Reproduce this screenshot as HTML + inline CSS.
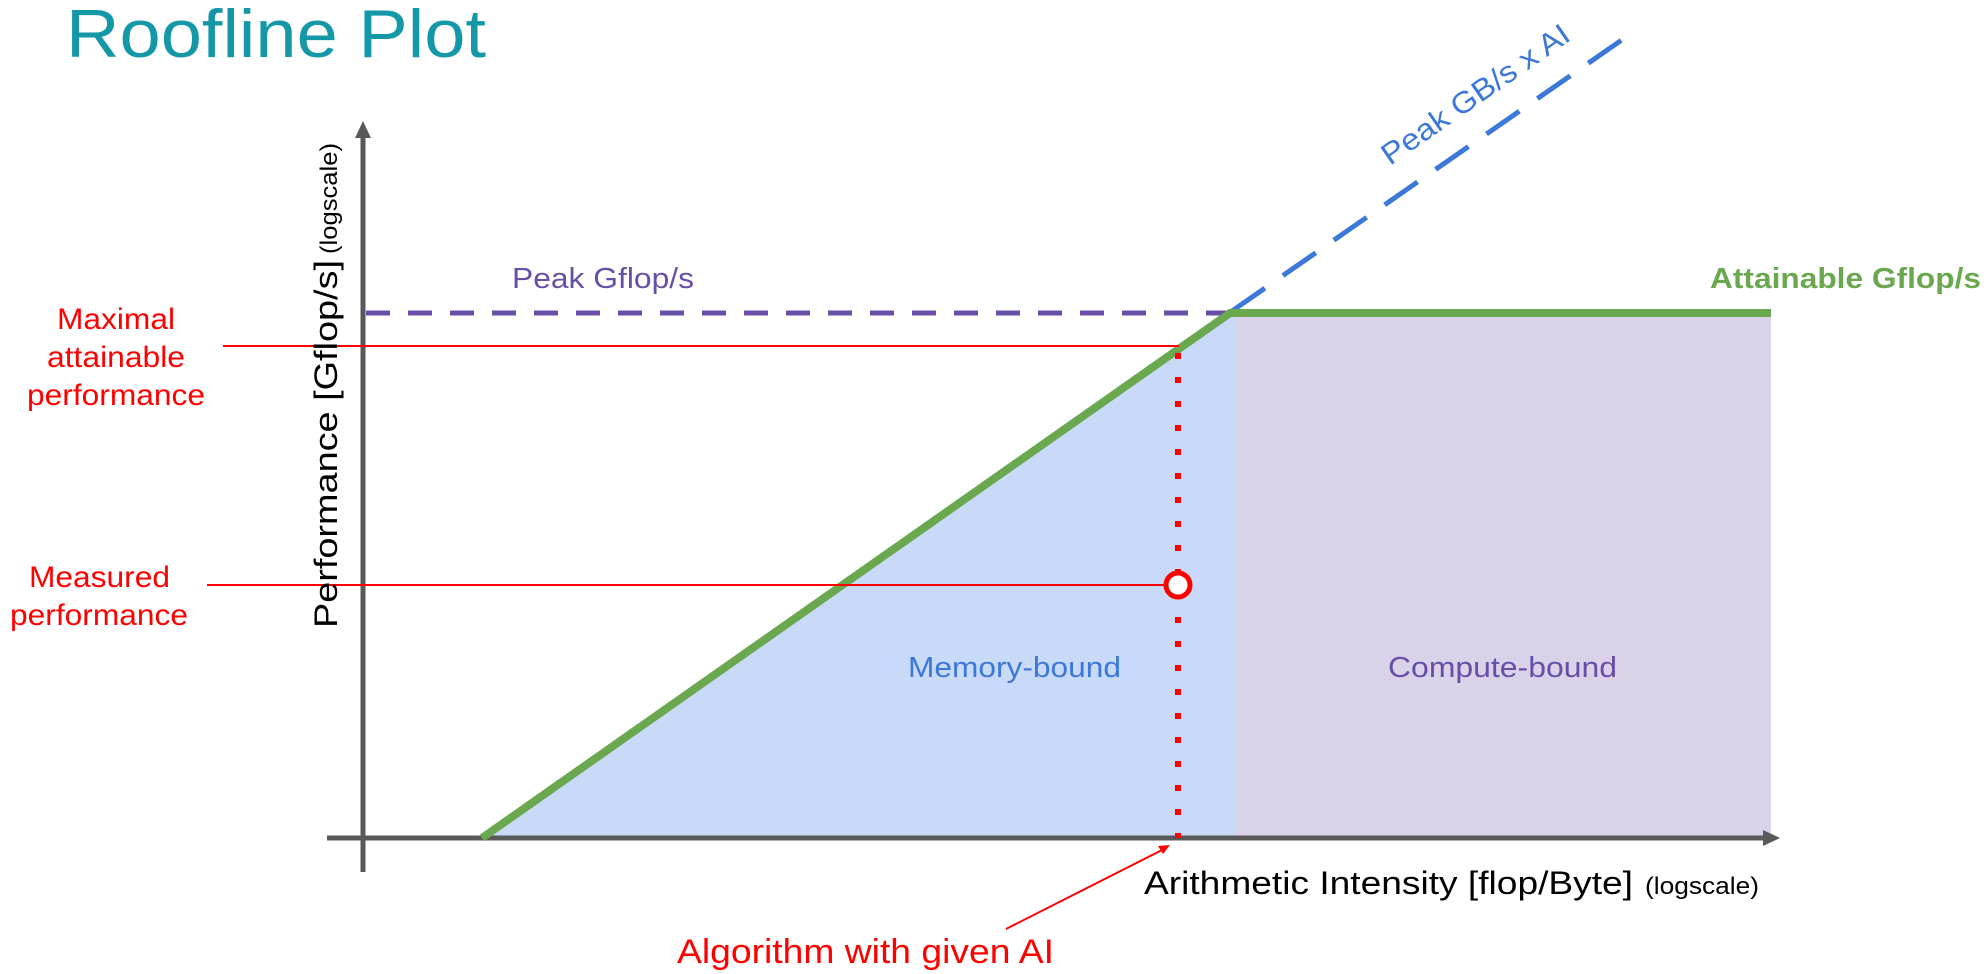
<!DOCTYPE html>
<html><head><meta charset="utf-8"><style>
html,body{margin:0;padding:0;background:#fff;}
svg{display:block;font-family:"Liberation Sans",sans-serif;}
</style></head><body>
<svg width="1988" height="974" viewBox="0 0 1988 974" xmlns="http://www.w3.org/2000/svg">
<text x="66" y="57" font-size="68" fill="#1497a6" textLength="420" lengthAdjust="spacingAndGlyphs">Roofline Plot</text>
<!-- fills -->
<polygon points="482,838 1230,313 1235,313 1235,838" fill="#c9daf8"/>
<rect x="1235" y="313" width="536" height="525" fill="#d9d2e9"/>
<!-- axes -->
<line x1="363" y1="135" x2="363" y2="872" stroke="#595959" stroke-width="5"/>
<polygon points="363,121 355,138 371,138" fill="#595959"/>
<line x1="327" y1="838" x2="1765" y2="838" stroke="#595959" stroke-width="5"/>
<polygon points="1780,838 1763,830 1763,846" fill="#595959"/>
<!-- peak line -->
<line x1="366" y1="313" x2="1228" y2="313" stroke="#6a4fa8" stroke-width="5" stroke-dasharray="24,18"/>
<!-- blue dashed -->
<line x1="1232" y1="311" x2="1626" y2="37" stroke="#3c78d8" stroke-width="5" stroke-dasharray="40,22"/>
<!-- green roof -->
<polyline points="482,838 1230,313 1771,313" fill="none" stroke="#6aa84f" stroke-width="8"/>
<!-- red lines -->
<line x1="223" y1="346" x2="1179" y2="346" stroke="#ff0000" stroke-width="2"/>
<line x1="207" y1="585" x2="1167" y2="585" stroke="#ff0000" stroke-width="2"/>
<line x1="1178" y1="353" x2="1178" y2="838" stroke="#ff0000" stroke-width="6" stroke-dasharray="6,18"/>
<circle cx="1178" cy="585" r="12" fill="#fff" stroke="#ff0000" stroke-width="5"/>
<line x1="1006" y1="929" x2="1164" y2="849" stroke="#ff0000" stroke-width="2"/>
<polygon points="1170,845 1158,846 1163,854" fill="#ff0000"/>
<!-- labels -->
<text x="512" y="288" font-size="29" fill="#674ea7" textLength="182" lengthAdjust="spacingAndGlyphs">Peak Gflop/s</text>
<text x="1710" y="288" font-size="29" font-weight="bold" fill="#6aa84f" textLength="271" lengthAdjust="spacingAndGlyphs">Attainable Gflop/s</text>
<text font-size="30" fill="#ff0000">
<tspan x="57" y="329" textLength="118" lengthAdjust="spacingAndGlyphs">Maximal</tspan>
<tspan x="47" y="367" textLength="138" lengthAdjust="spacingAndGlyphs">attainable</tspan>
<tspan x="27" y="405" textLength="178" lengthAdjust="spacingAndGlyphs">performance</tspan></text>
<text font-size="30" fill="#ff0000">
<tspan x="29" y="587" textLength="141" lengthAdjust="spacingAndGlyphs">Measured</tspan>
<tspan x="10" y="625" textLength="178" lengthAdjust="spacingAndGlyphs">performance</tspan></text>
<text x="908" y="677" font-size="29" fill="#3c78d8" textLength="213" lengthAdjust="spacingAndGlyphs">Memory-bound</text>
<text x="1388" y="677" font-size="29" fill="#674ea7" textLength="229" lengthAdjust="spacingAndGlyphs">Compute-bound</text>
<text x="1144" y="894" font-size="32" fill="#000" textLength="489" lengthAdjust="spacingAndGlyphs">Arithmetic Intensity [flop/Byte]</text>
<text x="1645" y="894" font-size="24" fill="#000" textLength="114" lengthAdjust="spacingAndGlyphs">(logscale)</text>
<text x="677" y="963" font-size="34" fill="#ff0000" textLength="377" lengthAdjust="spacingAndGlyphs">Algorithm with given AI</text>
<text transform="translate(337,628) rotate(-90)" font-size="32" fill="#000" textLength="368" lengthAdjust="spacingAndGlyphs">Performance [Gflop/s]</text>
<text transform="translate(337,254) rotate(-90)" font-size="24" fill="#000" textLength="111" lengthAdjust="spacingAndGlyphs">(logscale)</text>
<text transform="translate(1390,166) rotate(-34.8)" font-size="30" fill="#3c78d8" textLength="222" lengthAdjust="spacingAndGlyphs">Peak GB/s x AI</text>
</svg>
</body></html>
